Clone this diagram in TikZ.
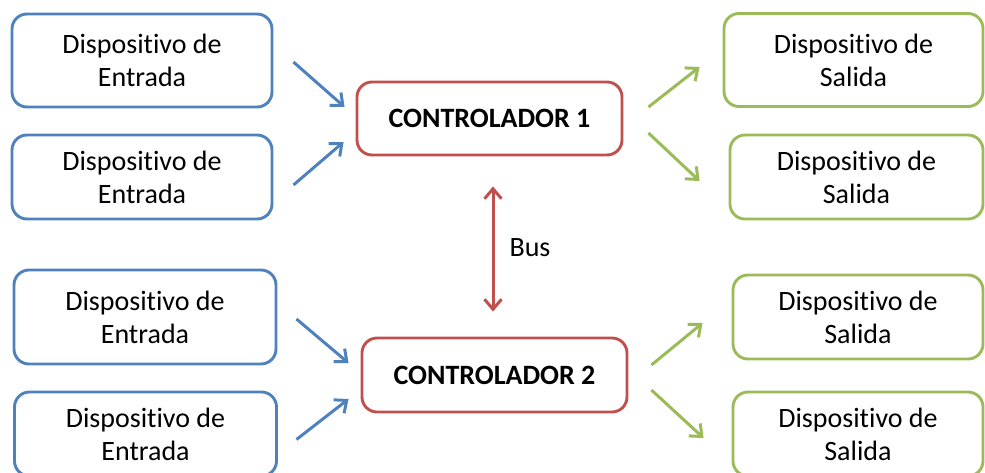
\documentclass[tikz,border=0pt]{standalone}
\usepackage{fontspec}
\setmainfont{Carlito}[Ligatures=NoCommon]
\usetikzlibrary{arrows.meta}
\definecolor{inblue}{HTML}{4F81BD}
\definecolor{ctrlred}{HTML}{C0504D}
\definecolor{outgreen}{HTML}{9BBB59}
\tikzset{
  devbox/.style={draw, line width=2.9pt, rounded corners=15pt, fill=white,
    align=center, inner sep=0pt, font=\fontsize{28}{33}\selectfont},
  inbox/.style={devbox, draw=inblue},
  outbox/.style={devbox, draw=outgreen},
  ctrlbox/.style={devbox, draw=ctrlred, font=\fontsize{28}{33}\selectfont\bfseries},
  tip/.style={Straight Barb[length=10pt,width=17pt,line width=3pt]},
  link/.style={line width=3pt, -{Straight Barb[length=10pt,width=17pt,line width=3pt]}},
  inlink/.style={link, inblue},
  outlink/.style={link, outgreen},
  buslink/.style={line width=3pt, ctrlred,
    {Straight Barb[length=10pt,width=17pt,line width=3pt]}-{Straight Barb[length=10pt,width=17pt,line width=3pt]}}
}
\begin{document}
\begin{tikzpicture}[x=1pt, y=-1pt]
\useasboundingbox (0,0) rectangle (985,472);
\clip (0,0) rectangle (985,472);

% input devices
\node[inbox, minimum width=260pt, minimum height=93pt] (E1) at (142,60.5) {Dispositivo de\\Entrada};
\node[inbox, minimum width=260pt, minimum height=84pt] (E2) at (142,177) {Dispositivo de\\Entrada};
\node[inbox, minimum width=262pt, minimum height=94pt] (E3) at (145,317) {Dispositivo de\\Entrada};
\node[inbox, minimum width=262pt, minimum height=84pt] (E4) at (145.5,434) {Dispositivo de\\Entrada};

% controllers
\node[ctrlbox, minimum width=265pt, minimum height=73pt] (C1) at (489.5,118.5) {CONTROLADOR 1};
\node[ctrlbox, minimum width=265pt, minimum height=74pt] (C2) at (494.5,375) {CONTROLADOR 2};

% output devices
\node[outbox, minimum width=259pt, minimum height=93pt] (S1) at (853.5,60) {Dispositivo de\\Salida};
\node[outbox, minimum width=253pt, minimum height=84pt] (S2) at (856.5,177) {Dispositivo de\\Salida};
\node[outbox, minimum width=250pt, minimum height=84pt] (S3) at (858,317) {Dispositivo de\\Salida};
\node[outbox, minimum width=250pt, minimum height=84pt] (S4) at (858,434) {Dispositivo de\\Salida};

% inputs to controllers
\draw[inlink] ([shift={(20,1.5)}]E1.east) -- ([shift={(-11,-11.5)}]C1.west);
\draw[inlink] ([shift={(20,8)}]E2.east) -- ([shift={(-12,23.5)}]C1.west);
\draw[inlink] ([shift={(19,2)}]E3.east) -- ([shift={(-12,-12)}]C2.west);
\draw[inlink] ([shift={(18.5,5.5)}]E4.east) -- ([shift={(-12,24)}]C2.west);

% controllers to outputs
\draw[outlink] ([shift={(25,-11.5)}]C1.east) -- ([shift={(-23,7)}]S1.west);
\draw[outlink] ([shift={(25,14.5)}]C1.east) -- ([shift={(-29,4)}]S2.west);
\draw[outlink] ([shift={(23,-10)}]C2.east) -- ([shift={(-29,6)}]S3.west);
\draw[outlink] ([shift={(23,15)}]C2.east) -- ([shift={(-28,4)}]S4.west);

% bus between the controllers
\draw[buslink] ([shift={(3.5,30)}]C1.south) -- ([shift={(-1.5,-25)}]C2.north);
\node[font=\fontsize{28}{33}\selectfont, inner sep=0pt] (bus) at (530,248) {Bus};
\end{tikzpicture}
\end{document}
